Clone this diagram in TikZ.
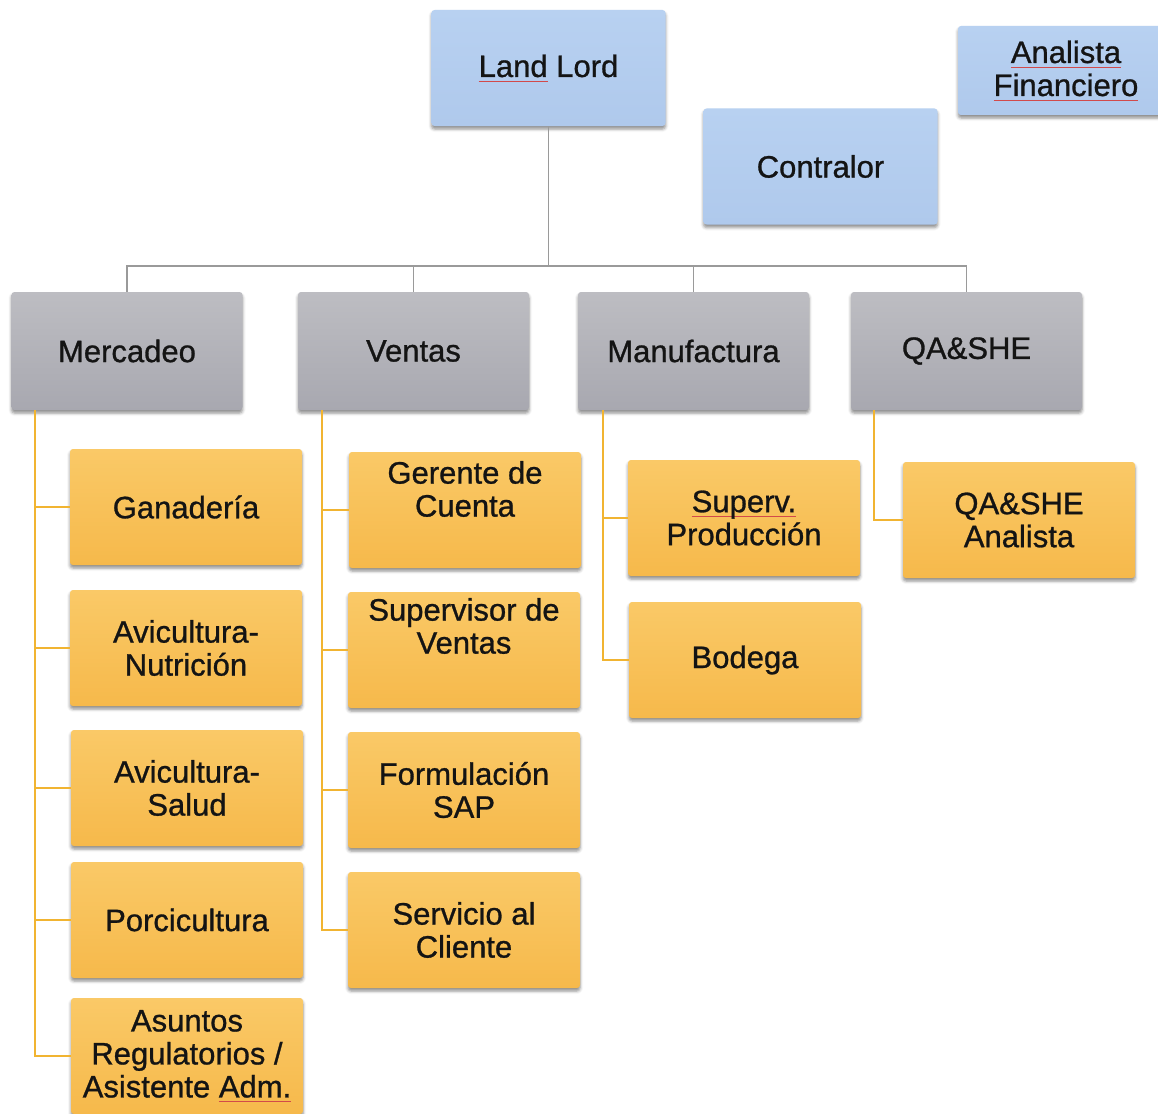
\documentclass[tikz,border=0pt]{standalone}
\usepackage{fontspec}
\setmainfont{Liberation Sans}[BoldFont=Liberation Sans, BoldFeatures={FakeBold=0.9}]
\usetikzlibrary{shadows.blur}

\definecolor{boxblue}{HTML}{B8D1F1}
\definecolor{boxblueD}{HTML}{AFC9EC}
\definecolor{grayT}{HTML}{BDBDC2}
\definecolor{grayB}{HTML}{A8A8B0}
\definecolor{orangeT}{HTML}{FAC967}
\definecolor{orangeB}{HTML}{F6B94B}
\definecolor{linegray}{HTML}{9A9A9A}
\definecolor{lineyellow}{HTML}{F1B431}
\definecolor{ink}{HTML}{141414}
\definecolor{spellred}{HTML}{D24A4A}

% thin spell-check style underline under one word
\newsavebox\spellbox
\newcommand\spellmark[1]{\sbox\spellbox{#1}\rlap{\textcolor{spellred}{\rule[-4.5pt]{\wd\spellbox}{0.8pt}}}\usebox\spellbox}

\tikzset{
  card/.style={rounded corners=3pt, inner sep=0pt, align=center, text=ink,
    font=\fontsize{31}{33}\selectfont\bfseries,
    blur shadow={shadow xshift=0pt, shadow yshift=-3pt, shadow blur radius=3pt, shadow opacity=45}},
  topbox/.style={card, top color=boxblue, bottom color=boxblueD,
    minimum width=234pt, minimum height=116pt},
  deptbox/.style={card, top color=grayT, bottom color=grayB,
    minimum width=231pt, minimum height=118pt},
  subbox/.style={card, top color=orangeT, bottom color=orangeB,
    minimum width=232pt, minimum height=116pt},
  subtext/.style={align=center, text=ink, font=\fontsize{31}{33}\selectfont\bfseries, inner sep=0pt},
  graylink/.style={draw=linegray, line width=1.5pt},
  yellowlink/.style={draw=lineyellow, line width=1.8pt}
}

\begin{document}
\begin{tikzpicture}[x=1pt, y=-1pt]
\useasboundingbox (0,0) rectangle (1158,1113);
\clip (0,0) rectangle (1158,1113);

% top level
\node[topbox] (landlord) at (548.5,68) {\spellmark{Land} Lord};
\node[topbox] (contralor) at (820.5,166.5) {Contralor};
\node[topbox, minimum width=216pt, minimum height=89pt] (analista) at (1066,70.5)
  {\spellmark{Analista}\\\spellmark{Financiero}};

% departments
\node[deptbox] (mercadeo) at (127,351) {Mercadeo};
\node[deptbox] (ventas) at (413.5,351) {Ventas};
\node[deptbox] (manufactura) at (693.5,351) {Manufactura};
\node[deptbox] (qashe) at (966.5,351) {QA\&SHE};

% Mercadeo units
\node[subbox] (ganaderia) at (186,507) {Ganadería};
\node[subbox] (avinut) at (186,648) {Avicultura-\\Nutrición};
\node[subbox] (avisal) at (187,788) {Avicultura-\\Salud};
\node[subbox] (porci) at (187,920) {Porcicultura};
\node[subbox] (asuntos) at (187,1056) {Asuntos\\Regulatorios /\\Asistente \spellmark{Adm.}};

% Ventas units
\node[subbox, label={[subtext, yshift=21pt]center:{Gerente de\\Cuenta}}] (gerente) at (465,510) {};
\node[subbox, label={[subtext, yshift=24pt]center:{Supervisor de\\Ventas}}] (supventas) at (464,650) {};
\node[subbox] (formsap) at (464,790) {Formulación\\SAP};
\node[subbox] (servicio) at (464,930) {Servicio al\\Cliente};

% Manufactura units
\node[subbox] (supprod) at (744,518) {\spellmark{Superv.}\\Producción};
\node[subbox] (bodega) at (745,660) {Bodega};

% QA&SHE unit
\node[subbox] (qaanal) at (1019,520) {QA\&SHE\\Analista};

% gray bus from the head to the departments
\coordinate (bus) at (548.5,266);
\path[graylink] (landlord.south) -- (bus);
\path[graylink] (mercadeo.north) |- (bus) -| (qashe.north);
\path[graylink] (ventas.north) -- (ventas.north |- bus);
\path[graylink] (manufactura.north) -- (manufactura.north |- bus);

% yellow spines to the units
\coordinate (mx) at (35,0);
\coordinate (vx) at (322,0);
\coordinate (fx) at (603,0);
\coordinate (qx) at (874,0);
\foreach \c in {ganaderia,avinut,avisal,porci,asuntos}
  \path[yellowlink] (mercadeo.south -| mx) |- (\c.west);
\foreach \c in {gerente,supventas,formsap,servicio}
  \path[yellowlink] (ventas.south -| vx) |- (\c.west);
\foreach \c in {supprod,bodega}
  \path[yellowlink] (manufactura.south -| fx) |- (\c.west);
\path[yellowlink] (qashe.south -| qx) |- (qaanal.west);
\end{tikzpicture}
\end{document}
